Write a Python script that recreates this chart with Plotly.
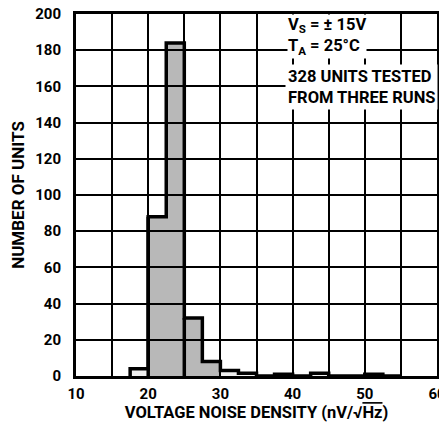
import plotly.graph_objects as go

# bin left edges (nV/sqrt(Hz)) and counts
bin_left = [17.5, 20, 22.5, 25, 27.5, 30, 32.5, 35, 37.5, 40, 42.5, 45, 47.5, 50, 52.5]
counts = [4, 88, 184, 32, 8, 3, 1.5, 0, 1, 0, 1.5, 0, 0, 1, 0]
bin_width = 2.5
shaded = [False, True, True, True, True, False, False, False, False, False, False, False, False, False, False]
x_ticks = [10, 20, 30, 40, 50, 60]
y_ticks = [0, 20, 40, 60, 80, 100, 120, 140, 160, 180, 200]

FONT = "Roboto, Liberation Sans, sans-serif"

centers = [b + bin_width / 2 for b in bin_left]
fills = ["rgba(0,0,0,0.28)" if s else "rgba(0,0,0,0.06)" for s in shaded]

fig = go.Figure()
fig.add_trace(go.Bar(x=centers, y=counts, width=bin_width, marker=dict(color=fills, line=dict(width=0)),
                     showlegend=False, hoverinfo="skip"))

# step outline
sx, sy = [], []
for b, c in zip(bin_left, counts):
    sx += [b, b + bin_width]
    sy += [c, c]
sx = [bin_left[0]] + sx
sy = [0] + sy
fig.add_trace(go.Scatter(x=sx, y=sy, mode="lines", line=dict(color="black", width=3.5),
                         showlegend=False, hoverinfo="skip"))
# inner divider lines at 20 and 25 down to base
for xv, top in [(20, counts[1]), (25, counts[3])]:
    fig.add_trace(go.Scatter(x=[xv, xv], y=[0, top], mode="lines", line=dict(color="black", width=3.5),
                             showlegend=False, hoverinfo="skip"))

fig.add_annotation(x=0.585, y=1.0, xref="paper", yref="paper", xanchor="left", yanchor="top",
                   text="<b>V<sub>S</sub> = ± 15V<br>T<sub>A</sub> = 25°C</b>", showarrow=False, align="left",
                   bgcolor="white", font=dict(family=FONT, size=16.5, color="black"), borderpad=0)
fig.add_annotation(x=0.578, y=0.862, xref="paper", yref="paper", xanchor="left", yanchor="top",
                   text="<b>328 UNITS TESTED<br>FROM THREE RUNS</b>", showarrow=False, align="left",
                   bgcolor="white", font=dict(family=FONT, size=16.5, color="black"), borderpad=2)

fig.update_layout(
    width=439, height=423,
    margin=dict(l=68, r=10, t=6, b=55),
    paper_bgcolor="white", plot_bgcolor="white",
    font=dict(family=FONT, size=15, color="black"),
    bargap=0,
    xaxis=dict(range=[10, 60], tickvals=x_ticks, ticktext=[f"<b>{v}</b>" for v in x_ticks],
               showgrid=True, gridcolor="black", gridwidth=1.8,
               showline=True, linecolor="black", linewidth=3, mirror=True, ticks="",
               zeroline=False, ticklabelstandoff=2, automargin=False, ticklabeloverflow="allow",
               tickfont=dict(size=15),
               title=dict(text="<b>VOLTAGE NOISE DENSITY (nV/√<span style='text-decoration:overline'>Hz</span>)</b>",
                          font=dict(family=FONT, size=16.5), standoff=5)),
    yaxis=dict(range=[0, 200], tickvals=y_ticks, ticktext=[f"<b>{v}</b>" for v in y_ticks],
               showgrid=True, gridcolor="black", gridwidth=1.8,
               showline=True, linecolor="black", linewidth=3, mirror=True, ticks="",
               zeroline=False, ticklabelstandoff=9, automargin=False, ticklabeloverflow="allow",
               tickfont=dict(size=15),
               title=dict(text="<b>NUMBER OF UNITS</b>", font=dict(family=FONT, size=17), standoff=8)),
)
fig.update_xaxes(minor=dict(dtick=5, tick0=10, showgrid=True, gridcolor="black", gridwidth=1.8))
fig.write_html("out.html")
